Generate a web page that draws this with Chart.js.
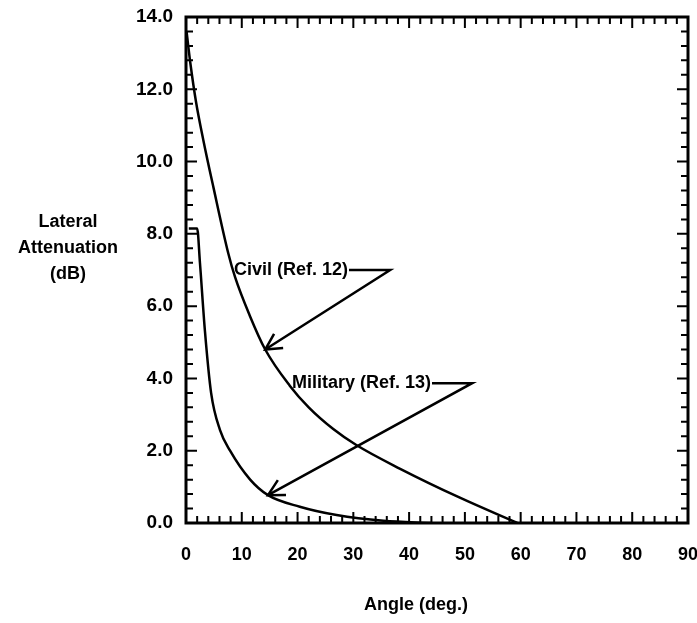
<!DOCTYPE html>
<html>
<head>
<meta charset="utf-8">
<script src="https://cdn.jsdelivr.net/npm/chart.js@4.4.0/dist/chart.umd.min.js"></script>
<style>
  html, body { margin: 0; padding: 0; background: #fff; }
  #wrap { width: 697px; height: 623px; position: relative; }
</style>
</head>
<body>
<div id="wrap"><canvas id="chart"></canvas></div>
<script>
// Data
const civilAngle = [0.1, 0.8, 1.8, 3.1, 4.9, 7.6, 8.8, 11.4, 14.2, 18.6, 22.0, 26.4, 30.6, 38.4, 49.1, 59.4];
const civilAtten = [13.6, 12.7, 11.65, 10.6, 9.3, 7.45, 6.8, 5.75, 4.8, 3.8, 3.2, 2.6, 2.15, 1.5, 0.7, 0.0];

const militaryAngle = [0.5, 2.0, 2.5, 3.4, 4.5, 6.1, 7.9, 11.5, 14.7, 20.4, 27.0, 35.4, 44.0];
const militaryAtten = [8.15, 8.15, 7.2, 5.3, 3.6, 2.57, 2.0, 1.2, 0.77, 0.45, 0.22, 0.06, 0.0];

// Callout labels: text, where the text starts, leader end, arrow tip (data units)
const calloutText = ["Civil (Ref. 12)", "Military (Ref. 13)"];
const calloutAnchor = [[8.6, 7.0], [19.0, 3.87]];
const calloutBend = [[36.6, 7.0], [51.3, 3.87]];
const calloutTip = [[14.2, 4.8], [14.7, 0.77]];

const yTitleLines = ["Lateral", "Attenuation", "(dB)"];
const xTitle = "Angle (deg.)";

const FONT = "'Liberation Sans', Arial, Helvetica, sans-serif";

function toPoints(xs, ys) {
    return xs.map((x, i) => ({ x: x, y: ys[i] }));
}

// keep the plot box where the original has it
function fixPadding(scale) {
    scale.paddingLeft = 0;
    scale.paddingRight = 0;
    scale.paddingTop = 0;
    scale.paddingBottom = 0;
}

// Frame, inside ticks, callouts and axis titles
const framePlugin = {
    id: 'frame',
    afterDatasetsDraw(chart) {
        const ctx = chart.ctx;
        const xs = chart.scales.x;
        const ys = chart.scales.y;
        const a = chart.chartArea;

        ctx.save();
        ctx.strokeStyle = '#000';
        ctx.lineCap = 'butt';

        // inside ticks, every 2 deg and every 0.4 dB
        ctx.lineWidth = 2;
        ctx.beginPath();
        for (let v = 0; v <= 90.01; v += 2) {
            const px = xs.getPixelForValue(v);
            const major = Math.abs(v % 10) < 0.01;
            const len = major ? 11 : 7;
            ctx.moveTo(px, a.bottom);
            ctx.lineTo(px, a.bottom - len);
            ctx.moveTo(px, a.top);
            ctx.lineTo(px, a.top + len);
        }
        for (let k = 0; k <= 35; k++) {
            const v = k * 0.4;
            const py = ys.getPixelForValue(v);
            const major = k % 5 === 0;
            const len = major ? 11 : 7;
            ctx.moveTo(a.left, py);
            ctx.lineTo(a.left + len, py);
            ctx.moveTo(a.right, py);
            ctx.lineTo(a.right - len, py);
        }
        ctx.stroke();

        // box
        ctx.lineWidth = 3;
        ctx.strokeRect(a.left, a.top, a.right - a.left, a.bottom - a.top);

        // callouts
        ctx.font = 'bold 18px ' + FONT;
        ctx.fillStyle = '#000';
        ctx.textBaseline = 'middle';
        ctx.textAlign = 'left';
        ctx.lineWidth = 2.5;
        ctx.lineJoin = 'miter';
        calloutText.forEach((txt, i) => {
            const tx = xs.getPixelForValue(calloutAnchor[i][0]);
            const ty = ys.getPixelForValue(calloutAnchor[i][1]);
            const bx = xs.getPixelForValue(calloutBend[i][0]);
            const by = ys.getPixelForValue(calloutBend[i][1]);
            const hx = xs.getPixelForValue(calloutTip[i][0]);
            const hy = ys.getPixelForValue(calloutTip[i][1]);
            ctx.fillText(txt, tx, ty);
            const w = ctx.measureText(txt).width;

            ctx.beginPath();
            ctx.moveTo(tx + w + 1, ty);
            ctx.lineTo(bx, by);
            ctx.lineTo(hx, hy);
            ctx.stroke();

            // open arrow head
            const ang = Math.atan2(by - hy, bx - hx);
            const spread = 28 * Math.PI / 180;
            const len = 18;
            ctx.beginPath();
            ctx.moveTo(hx + len * Math.cos(ang - spread), hy + len * Math.sin(ang - spread));
            ctx.lineTo(hx, hy);
            ctx.lineTo(hx + len * Math.cos(ang + spread), hy + len * Math.sin(ang + spread));
            ctx.stroke();
        });

        // axis titles
        ctx.textAlign = 'center';
        ctx.font = 'bold 18px ' + FONT;
        const midY = (a.top + a.bottom) / 2;
        yTitleLines.forEach((line, i) => {
            ctx.fillText(line, 68, midY - 48 + i * 26);
        });
        ctx.fillText(xTitle, (a.left + a.right) / 2 - 21, a.bottom + 82);

        ctx.restore();
    }
};

const ctx = document.getElementById('chart').getContext('2d');

new Chart(ctx, {
    type: 'line',
    data: {
        datasets: [
            {
                label: 'Civil (Ref. 12)',
                data: toPoints(civilAngle, civilAtten),
                borderColor: '#000',
                borderWidth: 2.5,
                pointRadius: 0,
                cubicInterpolationMode: 'monotone',
                fill: false
            },
            {
                label: 'Military (Ref. 13)',
                data: toPoints(militaryAngle, militaryAtten),
                borderColor: '#000',
                borderWidth: 2.5,
                pointRadius: 0,
                cubicInterpolationMode: 'monotone',
                fill: false
            }
        ]
    },
    options: {
        responsive: true,
        maintainAspectRatio: false,
        animation: false,
        layout: { padding: { top: 17, right: 9, bottom: 0, left: 0 } },
        plugins: {
            legend: { display: false },
            tooltip: { enabled: false }
        },
        scales: {
            x: {
                type: 'linear',
                min: 0,
                max: 90,
                grid: { display: false, drawTicks: false },
                border: { display: false },
                ticks: {
                    stepSize: 10,
                    color: '#000',
                    padding: 21,
                    font: { family: FONT, size: 18, weight: 'bold' }
                },
                afterFit(scale) {
                    scale.height = 100;
                    fixPadding(scale);
                }
            },
            y: {
                type: 'linear',
                min: 0,
                max: 14,
                grid: { display: false, drawTicks: false },
                border: { display: false },
                ticks: {
                    stepSize: 2,
                    color: '#000',
                    padding: 13,
                    font: { family: FONT, size: 19, weight: 'bold' },
                    callback: v => v.toFixed(1)
                },
                afterFit(scale) {
                    scale.width = 186;
                    fixPadding(scale);
                }
            }
        }
    },
    plugins: [framePlugin]
});
</script>
</body>
</html>
